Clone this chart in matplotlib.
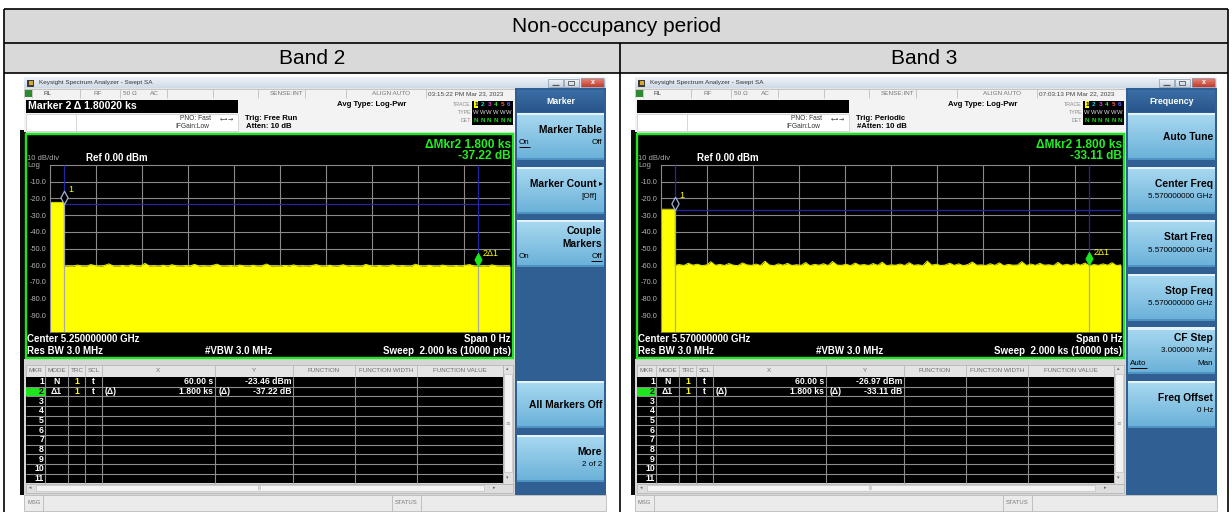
import numpy as np
import matplotlib
matplotlib.use("Agg")
import matplotlib.pyplot as plt
from matplotlib.patches import Rectangle
import matplotlib.colors as mcolors

# ---------------- data ----------------
table_title = "Non-occupancy period"
band_names = ["Band 2", "Band 3"]
window_title = "Keysight Spectrum Analyzer - Swept SA"
timestamps = ["03:15:22 PM Mar 23, 2023", "07:03:13 PM Mar 22, 2023"]
marker_banners = ["Marker 2 \u0394 1.80020 ks", ""]
trig_labels = ["Trig: Free Run", "Trig: Periodic"]
atten_labels = ["Atten: 10 dB", "#Atten: 10 dB"]
center_labels = ["Center 5.250000000 GHz", "Center 5.570000000 GHz"]
menu_titles = ["Marker", "Frequency"]

sweep_s = 2000.0
ref_dbm = 0.0
bottom_dbm = -100.0
y_ticks = [-10, -20, -30, -40, -50, -60, -70, -80, -90]
x_grid_s = [200, 400, 600, 800, 1000, 1200, 1400, 1600, 1800]

burst_dbm = [-22.4, -26.5]
mkr1_s = [60.0, 60.0]
mkr1_dbm = [-23.46, -26.97]
mkr2_delta_s = [1800.0, 1800.0]
mkr2_delta_db = [-37.22, -33.11]

noise_b2 = [-60.6, -60.4, -60.7, -59.9, -60.5, -60.6, -59.6, -60.3, -60.7, -60.2,
            -59.2, -60.5, -60.6, -60.1, -60.7, -59.8, -60.4, -60.6, -58.9, -60.5,
            -60.3, -60.7, -60.0, -60.6, -59.7, -60.4, -60.7, -60.2, -60.5, -59.5,
            -60.6, -60.3, -60.7, -60.1, -59.4, -60.6, -60.5, -60.2, -60.7, -59.9,
            -60.4, -60.6, -60.0, -60.7, -60.3, -59.3, -60.6, -60.4, -60.7, -60.1,
            -60.5, -59.8, -60.6, -60.3, -60.7, -60.2, -59.6, -60.5, -60.6, -60.0,
            -60.7, -60.4, -59.7, -60.6, -60.2, -60.5, -60.7, -59.5, -60.3, -60.6,
            -60.1, -60.7, -60.4, -59.8, -60.6, -60.2, -60.5, -60.7, -59.4, -60.3,
            -60.6, -60.0, -60.5, -60.7, -59.9, -60.4, -60.6, -60.2, -60.7, -60.1,
            -59.6, -60.5, -60.7, -60.3, -60.6, -59.8, -60.4, -60.7, -60.5, -60.6]
noise_b3 = [-60.1, -59.6, -60.2, -58.8, -60.0, -59.4, -60.3, -59.9, -57.9, -60.1,
            -59.5, -60.2, -59.0, -60.0, -60.3, -58.6, -59.8, -60.1, -59.3, -60.2,
            -57.6, -59.9, -60.3, -59.2, -60.0, -58.9, -60.2, -59.7, -60.1, -58.4,
            -60.3, -59.5, -60.0, -59.1, -60.2, -57.8, -59.9, -60.1, -59.4, -60.3,
            -58.7, -60.0, -59.6, -60.2, -59.0, -60.1, -58.2, -60.3, -59.8, -60.0,
            -59.3, -60.2, -58.5, -60.1, -59.7, -60.3, -57.5, -60.0, -59.4, -60.2,
            -59.9, -58.8, -60.1, -59.2, -60.3, -59.6, -58.1, -60.0, -59.8, -60.2,
            -59.1, -60.1, -58.6, -60.3, -59.5, -60.0, -59.9, -57.9, -60.2, -59.3,
            -60.1, -58.9, -60.0, -59.7, -60.3, -58.3, -60.1, -59.4, -60.2, -59.0,
            -60.0, -58.7, -60.3, -59.6, -60.1, -59.2, -60.0, -58.5, -60.2, -59.8]
noise_sets = [noise_b2, noise_b3]

table_cols = ["MKR", "MODE", "TRC", "SCL", "X", "Y", "FUNCTION", "FUNCTION WIDTH", "FUNCTION VALUE"]

keys_b2 = [
    (0, ["Marker Table"], [], ("On", "Off", 0)),
    (1, ["Marker Count"], ["[Off]"], None),
    (2, ["Couple", "Markers"], [], ("On", "Off", 1)),
    (5, ["All Markers Off"], [], None),
    (6, ["More"], ["2 of 2"], None),
]
keys_b3 = [
    (0, ["Auto Tune"], [], None),
    (1, ["Center Freq"], ["5.570000000 GHz"], None),
    (2, ["Start Freq"], ["5.570000000 GHz"], None),
    (3, ["Stop Freq"], ["5.570000000 GHz"], None),
    (4, ["CF Step"], ["3.000000 MHz"], ("Auto", "Man", 0)),
    (5, ["Freq Offset"], ["0 Hz"], None),
]
key_sets = [keys_b2, keys_b3]

# ---------------- figure ----------------
FONT = ['Liberation Sans', 'DejaVu Sans']
plt.rcParams['font.family'] = FONT
W, H = 1232, 512
fig = plt.figure(figsize=(W / 100, H / 100), dpi=100, facecolor='white')
bg = fig.add_axes([0, 0, 1, 1])
bg.set_xlim(0, W)
bg.set_ylim(H, 0)
bg.axis('off')

underlines = []


def rect(x, y, w, h, fc, ec='none', lw=0.0, z=1):
    bg.add_patch(Rectangle((x, y), w, h, facecolor=fc, edgecolor=ec, linewidth=lw, zorder=z))


def grad(x, y, w, h, c_top, c_bot, z=2):
    t = np.linspace(0, 1, 40)[:, None, None]
    a = np.array(mcolors.to_rgb(c_top))[None, None, :]
    b = np.array(mcolors.to_rgb(c_bot))[None, None, :]
    img = a * (1 - t) + b * t
    bg.imshow(img, extent=(x, x + w, y + h, y), aspect='auto', zorder=z, interpolation='bilinear')


def txt(x, y, s, size=6.0, color='black', ha='left', va='center', weight='normal', z=6, **kw):
    return bg.text(x, y, s, fontsize=size, color=color, ha=ha, va=va, fontweight=weight, zorder=z, **kw)


def hline(x1, x2, y, color, lw=0.8, z=5):
    bg.plot([x1, x2], [y, y], color=color, lw=lw, zorder=z, solid_capstyle='butt')


def vline(x, y1, y2, color, lw=0.8, z=5):
    bg.plot([x, x], [y1, y2], color=color, lw=lw, zorder=z, solid_capstyle='butt')


# ---------------- outer table ----------------
rect(4, 9, 1224, 34, '#d9d9d9', z=1)
rect(4, 43, 1224, 30, '#d9d9d9', z=1)
for yy in (9, 43, 73):
    hline(4, 1228, yy, 'black', lw=1.2, z=8)
for xx in (4, 1228):
    vline(xx, 9, 512, 'black', lw=1.2, z=8)
vline(620, 43, 512, 'black', lw=1.2, z=8)
txt(616, 27, table_title, size=15, ha='center', z=9)
txt(312, 58.5, band_names[0], size=15, ha='center', z=9)
txt(924, 58.5, band_names[1], size=15, ha='center', z=9)


def softkeys(x0, title, keys):
    px = x0 + 493
    pw = 87
    rect(x0 + 491, 88, 91, 407, '#2f5f93', z=2)
    grad(px, 90, pw, 22, '#3b6fa6', '#28558a', z=3)
    txt(px + pw / 2, 101, title, size=6.3, color='white', ha='center', weight='bold')
    for slot, titles, subs, onoff in keys:
        top = 113 + slot * 53.6
        grad(px, top, pw, 47, '#a9d9f0', '#69b0d9', z=3)
        rect(px, top, pw, 2.2, '#e2f3fb', z=3.5)
        rect(px, top + 45, pw, 2, '#4f93c2', z=3.5)
        items = [(s, 'title') for s in titles] + [(s, 'sub') for s in subs]
        if onoff is not None:
            items.append((onoff, 'onoff'))
        n = len(items)
        y = top + 23.5 - (n - 1) * 6.3
        for item, kind in items:
            if kind == 'title':
                s = item
                if s == "Marker Count":
                    txt(px + pw - 1, y - 1, "\u25b8", size=5.5, ha='right', family=['DejaVu Sans'])
                    txt(px + pw - 7, y, s, size=7.4, ha='right', weight='bold')
                else:
                    txt(px + pw - 2, y, s, size=7.4, ha='right', weight='bold')
            elif kind == 'sub':
                if item == "[Off]":
                    txt(px + pw - 7, y, item, size=5.8, ha='right')
                else:
                    txt(px + pw - 2, y, item, size=5.8, ha='right')
            else:
                left, right, ul = item
                t1 = txt(px + 2, y, left, size=5.8, ha='left')
                t2 = txt(px + pw - 2, y, right, size=5.8, ha='right')
                underlines.append((t1 if ul == 0 else t2, y + 4.2))
            y += 12.6


def draw_screen(i, x0):
    X = lambda r: x0 + r
    noise = noise_sets[i]
    # bezel and body
    rect(X(-4), 130, 6, 365, '#0a0a0a', z=1.2)
    rect(X(0), 88, 582, 423, '#e4e4e4', z=1)
    # title bar
    grad(X(0), 77, 582, 11, '#eef3f8', '#cfdae7', z=2)
    rect(X(3), 79.5, 7, 7, '#3c3c3c', z=3)
    rect(X(4.5), 81, 4, 4, '#d8a62a', z=3.2)
    txt(X(15), 82.6, window_title, size=4.6, color='#333333')
    for bx, bw, c1, c2 in ((524, 15, '#f5f8fb', '#c7d3e1'), (540, 15, '#f5f8fb', '#c7d3e1'),
                           (557, 23, '#e98c7e', '#c0392b')):
        grad(X(bx), 78.5, bw, 8.5, c1, c2, z=3)
        rect(X(bx), 78.5, bw, 8.5, 'none', ec='#8797ab', lw=0.5, z=3.5)
    hline(X(528), X(535), 84.5, '#555555', lw=0.9)
    rect(X(544), 80.5, 6, 4.5, 'none', ec='#555555', lw=0.6, z=5)
    txt(X(568.5), 82.6, "x", size=5, color='white', ha='center', weight='bold')
    # status row
    rect(X(0), 89, 491, 9, '#f2f2f2', ec='#b5b5b5', lw=0.5, z=2)
    for r in (8, 56, 96, 143, 189, 234, 281, 322, 402):
        vline(X(r), 89, 98, '#b5b5b5', lw=0.5, z=3)
    rect(X(1), 90, 6.5, 7, '#2f8a2f', z=3)
    txt(X(19), 93.5, "RL", size=4.6, color='#444444')
    txt(X(69), 93.5, "RF", size=4.6, color='#777777')
    txt(X(99), 93.5, "50 \u03a9", size=4.6, color='#777777')
    txt(X(126), 93.5, "AC", size=4.6, color='#777777')
    txt(X(279), 93.5, "SENSE:INT", size=4.6, color='#777777', ha='right')
    txt(X(348), 93.5, "ALIGN AUTO", size=4.6, color='#777777')
    txt(X(404), 93.5, timestamps[i], size=4.6, color='#444444')
    # marker banner area
    rect(X(0), 98, 491, 34, '#f3f3f3', z=2)
    rect(X(2), 100, 212, 12.5, 'black', z=3)
    if marker_banners[i]:
        txt(X(4), 106.3, marker_banners[i], size=7.6, color='white', weight='bold')
    rect(X(2), 113.5, 212, 17, 'white', ec='#c8c8c8', lw=0.5, z=3)
    vline(X(52), 113.5, 130.5, '#c8c8c8', lw=0.5)
    txt(X(156), 118.3, "PNO: Fast", size=4.8, color='#333333')
    txt(X(151), 126.5, "IFGain:Low", size=4.8, color='#333333')
    txt(X(196), 118.3, "\u2190\u2022\u2192", size=4.5, color='#333333', family=['DejaVu Sans'])
    txt(X(221), 118.3, trig_labels[i], size=5.6, weight='bold')
    txt(X(222), 127, atten_labels[i], size=5.6, weight='bold')
    txt(X(313), 105, "Avg Type: Log-Pwr", size=5.6, weight='bold')
    # trace info box
    rect(X(448), 101, 41, 24, 'black', z=3)
    for lab, yy in (("TRACE", 104.5), ("TYPE", 112.5), ("DET", 120.5)):
        txt(X(447), yy, lab, size=3.8, color='#8a8a8a', ha='right')
    tcols = ['#ffff00', '#00e0e0', '#e040e0', '#30e030', '#ff5050', '#6060ff']
    for k in range(6):
        cx = X(452 + k * 6.6)
        txt(cx, 104.5, str(k + 1), size=4.6, color='black' if k == 0 else tcols[k], ha='center', weight='bold',
            bbox=dict(boxstyle='square,pad=0.08', fc='#ffff00', ec='none') if k == 0 else None)
        txt(cx, 112.5, "W", size=4.2, color='#e0e0e0', ha='center')
        txt(cx, 120.5, "N", size=4.6, color='#20d020', ha='center', weight='bold')
    # plot box
    rect(X(2), 134, 487, 224, 'black', ec='#1ee61e', lw=1.7, z=3)
    dmk = mkr2_delta_s[i] / 1000.0
    txt(X(487), 144.5, "\u0394Mkr2 %.3f ks" % dmk, size=8.6, color='#22ee22', ha='right', weight='bold')
    txt(X(487), 156, "%.2f dB" % mkr2_delta_db[i], size=8.6, color='#22ee22', ha='right', weight='bold')
    txt(X(3), 158.5, "10 dB/div", size=5.5, color='#aaaaaa')
    txt(X(62), 158, "Ref 0.00 dBm", size=7, color='white', weight='bold')
    txt(X(3), 165.5, "Log", size=5.5, color='#aaaaaa')
    txt(X(3), 339.5, center_labels[i], size=7, color='white', weight='bold')
    txt(X(487), 339.5, "Span 0 Hz", size=7, color='white', weight='bold', ha='right')
    txt(X(3), 351.5, "Res BW 3.0 MHz", size=7, color='white', weight='bold')
    txt(X(181), 351.5, "#VBW 3.0 MHz", size=7, color='white', weight='bold')
    txt(X(487), 351.5, "Sweep  2.000 ks (10000 pts)", size=7, color='white', weight='bold', ha='right')

    # marker table
    rect(X(0), 359, 491, 136, '#d6d6d6', z=2)
    rt0, rh = 376.9, 9.66
    rect(X(2), 364.5, 477, rt0 - 364.5, '#e4e4e4', ec='#b0b0b0', lw=0.5, z=3)
    rect(X(2), rt0, 477, rh * 11, 'black', z=3)
    seps = [21, 44, 61, 77.7, 191, 269.3, 331, 392.7]
    for r in seps:
        vline(X(r), 364.5, rt0, '#b0b0b0', lw=0.5)
        vline(X(r), rt0, rt0 + 11 * rh, '#8c8c8c', lw=0.8)
    for k in range(1, 11):
        hline(X(2), X(479), rt0 + k * rh, '#8c8c8c', lw=0.8)
    col_cx = [11.5, 32.5, 52.8, 69.3, 134, 230, 300, 362, 436]
    for lab, cx in zip(table_cols, col_cx):
        txt(X(cx), 370.5, lab, size=4.5, color='#6e6e6e', ha='center')
    rect(X(2), rt0 + rh, 19, rh, '#1ee61e', z=4)
    for k in range(11):
        cy = rt0 + (k + 0.5) * rh
        txt(X(20), cy, str(k + 1), size=6.3, color='black' if k == 1 else 'white', ha='right', weight='bold')
    r1y = rt0 + 0.5 * rh
    r2y = rt0 + 1.5 * rh
    txt(X(32.5), r1y, "N", size=6.2, color='white', ha='center', weight='bold')
    txt(X(32.5), r2y, "\u03941", size=6.2, color='white', ha='center', weight='bold')
    for cy in (r1y, r2y):
        txt(X(53), cy, "1", size=6.2, color='#ffff00', ha='center', weight='bold')
        txt(X(69.3), cy, "t", size=6.2, color='white', ha='center', weight='bold')
    txt(X(81), r2y, "(\u0394)", size=6.2, color='white', weight='bold')
    txt(X(189), r1y, "%.2f s" % mkr1_s[i], size=6.2, color='white', ha='right', weight='bold')
    txt(X(189), r2y, "%.3f ks" % dmk, size=6.2, color='white', ha='right', weight='bold')
    txt(X(195), r2y, "(\u0394)", size=6.2, color='white', weight='bold')
    txt(X(267.5), r1y, "%.2f dBm" % mkr1_dbm[i], size=6.2, color='white', ha='right', weight='bold')
    txt(X(267.5), r2y, "%.2f dB" % mkr2_delta_db[i], size=6.2, color='white', ha='right', weight='bold')
    # scrollbars
    rect(X(479), 364.5, 9.5, 119, '#e2e2e2', ec='#b0b0b0', lw=0.5, z=3)
    rect(X(480), 374, 7.5, 98, '#f3f3f3', ec='#c2c2c2', lw=0.5, z=3.5)
    txt(X(483.7), 369, "\u25b4", size=3.5, color='#666666', ha='center', family=['DejaVu Sans'])
    txt(X(483.7), 478, "\u25be", size=3.5, color='#666666', ha='center', family=['DejaVu Sans'])
    txt(X(483.7), 423, "\u2261", size=4, color='#999999', ha='center', family=['DejaVu Sans'])
    rect(X(2), 483.5, 486.5, 9, '#dedede', ec='#b0b0b0', lw=0.5, z=3)
    rect(X(12), 484.7, 448, 6.6, '#f3f3f3', ec='#c2c2c2', lw=0.5, z=3.5)
    txt(X(6), 488, "\u25c2", size=3.5, color='#666666', ha='center', family=['DejaVu Sans'])
    txt(X(470), 488, "\u25b8", size=3.5, color='#666666', ha='center', family=['DejaVu Sans'])
    txt(X(236), 488, "III", size=3.5, color='#999999', ha='center')
    # msg bar
    rect(X(0), 495, 582, 16, '#ebebeb', ec='#b0b0b0', lw=0.5, z=3)
    vline(X(19), 495, 511, '#b0b0b0', lw=0.5)
    vline(X(368), 495, 511, '#b0b0b0', lw=0.5)
    vline(X(397), 495, 511, '#b0b0b0', lw=0.5)
    txt(X(3), 503, "MSG", size=4.2, color='#777777')
    txt(X(382.5), 503, "STATUS", size=4.2, color='#777777', ha='center')
    # soft keys
    softkeys(x0, menu_titles[i], key_sets[i])

    # ------------ spectrum graticule (data axes) ------------
    gl, gt, gw, gh = X(26), 165.0, 460.0, 167.0
    ax = fig.add_axes([gl / W, 1 - (gt + gh) / H, gw / W, gh / H])
    ax.set_facecolor('black')
    ax.set_xlim(0, sweep_s)
    ax.set_ylim(bottom_dbm, ref_dbm)
    ax.set_xticks(x_grid_s)
    ax.set_xticklabels([])
    ax.set_yticks(y_ticks)
    ax.set_yticklabels(["%.1f" % v for v in y_ticks])
    ax.tick_params(length=0, labelsize=5.3, labelcolor='#b4b4b4', pad=2.6)
    ax.set_axisbelow(True)
    ax.grid(True, color='#8a8a8a', lw=0.8)
    for side, sp in ax.spines.items():
        sp.set_color('#8a8a8a')
        sp.set_linewidth(0.8)
        if side in ('bottom', 'right'):
            sp.set_visible(False)
    ax.axvline(sweep_s, color='#8a8a8a', lw=0.8, zorder=0.5)

    t_noise = np.linspace(mkr1_s[i], sweep_s, len(noise))
    t = np.concatenate([[0.0, mkr1_s[i]], t_noise])
    v = np.concatenate([[burst_dbm[i], burst_dbm[i]], noise])
    blue = '#2424a8'
    ax.hlines(mkr1_dbm[i], 0, sweep_s, color=blue, lw=0.9, zorder=0.8)
    ax.fill_between(t, v, bottom_dbm, color='#ffff00', lw=0, zorder=1)
    ax.plot(t, v, color='#e8e800', lw=0.7, zorder=1.5)

    m2_t = mkr1_s[i] + mkr2_delta_s[i]
    m2_v = mkr1_dbm[i] + mkr2_delta_db[i]
    for mt, mv in ((mkr1_s[i], mkr1_dbm[i]), (m2_t, m2_v)):
        ax.vlines(mt, mv, ref_dbm, color=blue, lw=0.9, zorder=3)
        ax.vlines(mt, bottom_dbm, mv, color='#a9a9a9', lw=0.9, zorder=3)
    dverts = [(0, 0), (-0.55, 1), (0, 2), (0.55, 1), (0, 0)]
    ax.plot([mkr1_s[i]], [mkr1_dbm[i]], marker=dverts, ms=19, mfc='black', mec='#9fb3d9', mew=0.9,
            zorder=5, clip_on=False, ls='none')
    ax.plot([m2_t], [m2_v], marker=dverts, ms=19, mfc='#1ee61e', mec='#1ee61e', mew=0.6,
            zorder=5, clip_on=False, ls='none')
    ax.annotate("1", (mkr1_s[i], mkr1_dbm[i]), xytext=(3.5, 10.8), textcoords='offset points',
                color='#ffff00', fontsize=6.5, ha='left', va='center', zorder=6)
    ax.annotate("2\u03941", (m2_t, m2_v), xytext=(3.2, 9.4), textcoords='offset points',
                color='#ffff00', fontsize=6.5, ha='left', va='center', zorder=6)


draw_screen(0, 24)
draw_screen(1, 635)

bg.set_xlim(0, W)
bg.set_ylim(H, 0)

fig.canvas.draw()
rend = fig.canvas.get_renderer()
inv = bg.transData.inverted()
for tobj, yy in underlines:
    bb = tobj.get_window_extent(rend)
    (xa, _), (xb, _) = inv.transform([(bb.x0, bb.y0), (bb.x1, bb.y0)])
    hline(xa, xb, yy, 'black', lw=0.7, z=7)

fig.savefig("out.png", dpi=100, facecolor='white')
